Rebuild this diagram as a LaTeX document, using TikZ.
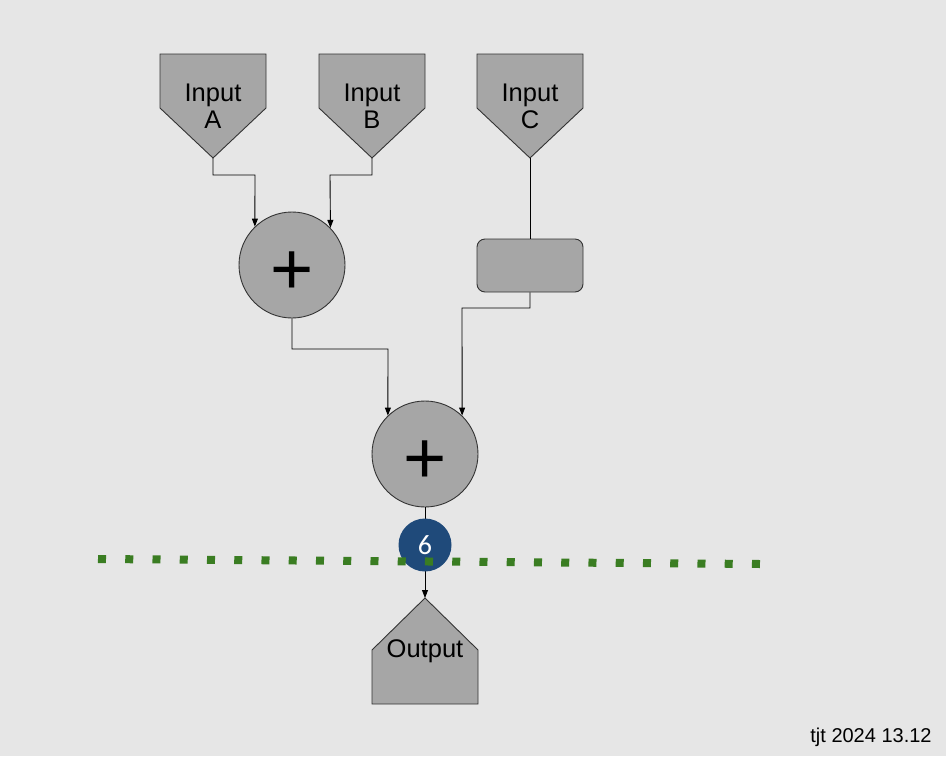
\documentclass[tikz,border=0pt]{standalone}
\usepackage{fontspec}
\setmainfont{Liberation Sans}
\newfontfamily\numfont{Carlito}
\usetikzlibrary{arrows.meta}
\definecolor{canvas}{HTML}{E6E6E6}
\definecolor{blockfill}{HTML}{A6A6A6}
\definecolor{blockline}{HTML}{333333}
\definecolor{badgeblue}{HTML}{1F4A7A}
\definecolor{cutgreen}{HTML}{3A7D22}
\tikzset{
  x=1pt, y=-1pt,
  block/.style={fill=blockfill, draw=blockline, line width=0.9pt},
  label/.style={font=\fontsize{25.5}{27}\selectfont, align=center, inner sep=0pt},
  summer/.style={circle, block, minimum size=106pt, inner sep=0pt},
  sign/.style={inner sep=0pt, font=\fontsize{74}{74}\selectfont},
  wire/.style={draw=black, line width=0.9pt},
  feed/.style={wire, -{Triangle[length=8pt,width=6pt]}},
  badge/.style={circle, fill=badgeblue, minimum size=53pt, inner sep=0pt,
                text=white, font=\numfont\fontsize{28}{28}\selectfont},
  cutline/.style={draw=cutgreen, line width=8pt, dash pattern=on 8pt off 19.25pt}
}
\begin{document}
\begin{tikzpicture}
  \fill[canvas] (0,0) rectangle (946,756);
  \useasboundingbox (0,0) rectangle (946,756);

  % input funnels
  \path[block] (160,54) -- (266,54) -- (266,108) -- (213,158) -- (160,108) -- cycle;
  \path[block] (319,54) -- (425,54) -- (425,108) -- (372,158) -- (319,108) -- cycle;
  \path[block] (477,54) -- (583,54) -- (583,108) -- (530,158) -- (477,108) -- cycle;
  \node[label] (inA) at (213,106) {Input\\A};
  \node[label] (inB) at (372,106) {Input\\B};
  \node[label] (inC) at (530,106) {Input\\C};
  \coordinate (tipA) at (213,158);
  \coordinate (tipB) at (372,158);
  \coordinate (tipC) at (530,158);

  % summing junctions and the processing block
  \node[summer] (sum1) at (292,265) {};
  \node[sign] (sign1) at (292.5,273) {+};
  \node[summer] (sum2) at (425,454) {};
  \node[sign] (sign2) at (425.5,462) {+};
  \node[block, rounded corners=8pt, minimum width=106pt, minimum height=53pt,
        inner sep=0pt] (proc) at (530,265.5) {};

  % output block
  \path[block] (425,598) -- (478,650) -- (478,704) -- (372,704) -- (372,650) -- cycle;
  \node[label] (out) at (425,651) {Output};
  \coordinate (outTip) at (425,598);

  % connectors
  \draw[feed] (tipA) -- (213,175) -- (255,175) -- (sum1.134);
  \draw[feed] (tipB) -- (372,175) -- (330,175) -- (sum1.44);
  \draw[wire] (tipC) -- (proc.north);
  \draw[feed] (sum1.south) -- (292,349) -- (388,349) -- (sum2.134);
  \draw[feed] (proc.south) -- (530,308) -- (462,308) -- (sum2.46);
  \draw[feed] (sum2.south) -- (outTip);

  % numbered marker and cut line
  \node[badge] (mark) at (425,545) {6};
  \path[cutline] (98,559) -- (760,564);

  \node[font=\fontsize{20}{20}\selectfont, inner sep=0pt, anchor=base] (stamp) at (871,742) {tjt 2024 13.12};
\end{tikzpicture}
\end{document}
